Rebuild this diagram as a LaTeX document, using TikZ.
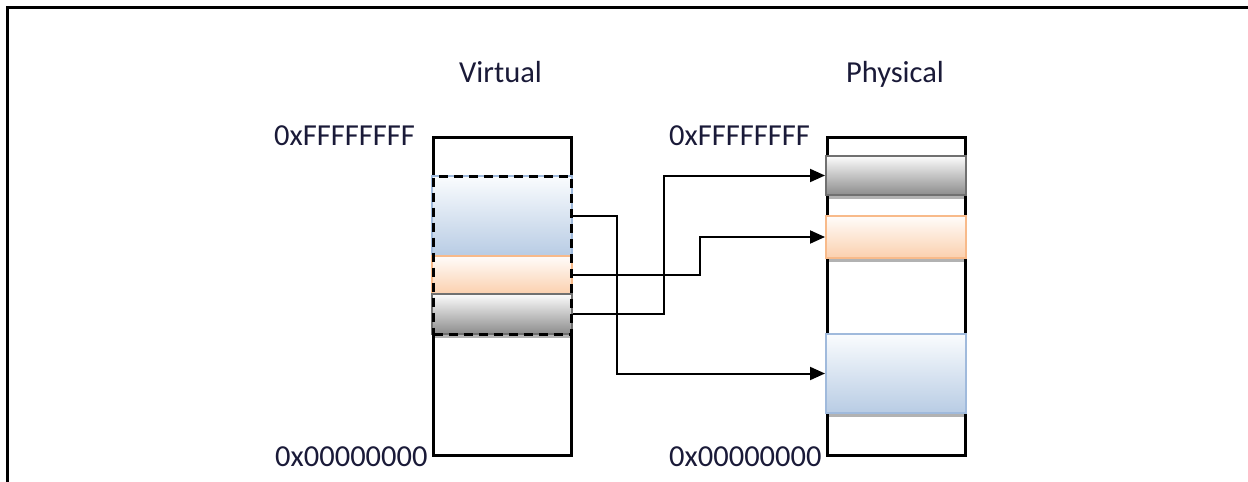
\documentclass[tikz,border=0pt]{standalone}
\usepackage{fontspec}
\setmainfont{Carlito}
\usetikzlibrary{arrows.meta,shadows}

\definecolor{txt}{RGB}{26,26,56}
\definecolor{bluetop}{RGB}{250,252,254}
\definecolor{bluebot}{RGB}{184,204,228}
\definecolor{blueedge}{RGB}{160,186,220}
\definecolor{orgtop}{RGB}{255,252,250}
\definecolor{orgbot}{RGB}{251,208,174}
\definecolor{orgedge}{RGB}{248,186,138}
\definecolor{graytop}{RGB}{252,252,252}
\definecolor{graybot}{RGB}{140,140,140}
\definecolor{grayedge}{RGB}{112,112,112}

\tikzset{
  memory/.style={draw=black, line width=2.6pt, fill=white, minimum width=138pt,
    minimum height=318pt, anchor=north west, inner sep=0pt},
  region/.style={minimum width=140pt, anchor=north west, inner sep=0pt, line width=2pt,
    drop shadow={shadow xshift=0pt, shadow yshift=-4pt, opacity=0.3, fill=black}},
  blueregion/.style={region, top color=bluetop, bottom color=bluebot, draw=blueedge},
  orangeregion/.style={region, top color=orgtop, bottom color=orgbot, draw=orgedge},
  grayregion/.style={region, top color=graytop, bottom color=graybot, draw=grayedge},
  mapped/.style={draw=black, line width=3pt, dash pattern=on 9pt off 6pt, inner sep=0pt,
    minimum width=138pt, minimum height=158pt, anchor=north west},
  conn/.style={draw=black, line width=2pt, -{Triangle[length=15pt,width=13pt]}},
  lbl/.style={text=txt, font=\fontsize{30.5}{36}\selectfont, inner sep=0pt},
  frameline/.style={line width=2.5pt, black}
}

\begin{document}
\begin{tikzpicture}[x=1pt, y=-1pt]
  \useasboundingbox (0,0) rectangle (1248,482);

  % frame edges
  \draw[frameline] (7.5,482) -- (7.5,7.5) -- (1248,7.5);

  % titles
  \node[lbl, anchor=base] (vtitle) at (500.5,82) {Virtual};
  \node[lbl, anchor=base] (ptitle) at (895,82) {Physical};

  % address space columns
  \node[memory] (vmem) at (432,136) {};
  \node[memory] (pmem) at (826,136) {};

  % address labels
  \node[lbl, anchor=base west] (vtop) at (274,145) {0xFFFFFFFF};
  \node[lbl, anchor=base west] (vbot) at (275,466) {0x00000000};
  \node[lbl, anchor=base west] (ptop) at (669,145) {0xFFFFFFFF};
  \node[lbl, anchor=base west] (pbot) at (669,466) {0x00000000};

  % virtual regions
  \node[blueregion, minimum height=80pt] (vblue) at (431,175) {};
  \node[orangeregion, minimum height=38pt] (vorange) at (431,255) {};
  \node[grayregion, minimum height=40pt] (vgray) at (431,293) {};
  \node[mapped] (vrange) at (432,175) {};

  % physical regions
  \node[grayregion, minimum height=39pt] (pgray) at (825,155) {};
  \node[orangeregion, minimum height=42pt] (porange) at (825,215) {};
  \node[blueregion, minimum height=79pt] (pblue) at (825,333) {};

  % mappings
  \draw[conn] (vblue.east) -- ++(44,0) |- (pblue.west);
  \draw[conn] (vorange.east) -- ++(127,0) |- (porange.west);
  \draw[conn] (vgray.east) -- ++(91,0) |- (pgray.west);
\end{tikzpicture}
\end{document}
